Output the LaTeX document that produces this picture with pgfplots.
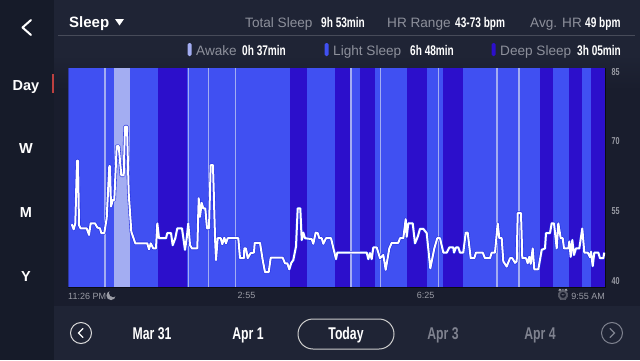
\documentclass[border=0pt]{standalone}
\usepackage{pgfplots}
\pgfplotsset{compat=1.18}
\usepackage{fontspec}
\setmainfont{Liberation Sans}
\newfontfamily\cond[FakeStretch=0.72]{Liberation Sans}
\newfontfamily\emo{Noto Emoji}
\definecolor{bgmain}{HTML}{1F2435}
\definecolor{bgside}{HTML}{161B29}
\definecolor{bgstrip}{HTML}{191D2D}
\definecolor{light}{HTML}{4050F2}
\definecolor{deep}{HTML}{2C0FCB}
\definecolor{awake}{HTML}{A3ADF2}
\definecolor{graytxt}{HTML}{8D909B}
\definecolor{tickgray}{HTML}{9A9CA5}
\definecolor{dimtxt}{HTML}{7F828F}
\definecolor{halo}{HTML}{1F2CE0}
\newcommand{\hd}[1]{{\cond\bfseries\fontsize{14}{14}\selectfont #1}}
\tikzset{lab/.style={anchor=base west,inner sep=0pt,text=graytxt,font=\fontsize{13.6}{14}\selectfont},
val/.style={anchor=base west,inner sep=0pt,text=white},
nav/.style={anchor=base,inner sep=0pt,font=\cond\bfseries\fontsize{17}{17}\selectfont}}
\newcommand{\band}[3]{\addplot[fill=#1,draw=none,forget plot] coordinates {(#2,38.64)(#2,85.73)(#3,85.73)(#3,38.64)} --cycle;}
\begin{document}
\begin{tikzpicture}[x=1pt,y=1pt]
\fill[bgmain] (0,0) rectangle (640,360);
\fill[bgside] (0,0) rectangle (54,360);
\fill[bgstrip] (54,54) rectangle (640,270);
\shade[top color=bgmain,bottom color=bgstrip] (54,270) rectangle (640,305);
% header
\draw[line width=0.6pt,color=white!18!bgmain] (58,324.5) -- (635,324.5);
\node[anchor=base west,inner sep=0pt,text=white,font=\bfseries\fontsize{15}{15}\selectfont] at (69,333) {Sleep};
\fill[white] (115,341) -- (124,341) -- (119.5,334.5) -- cycle;
\node[lab] at (245,333) {Total Sleep};
\node[val] at (321,333) {\hd{9h 53min}};
\node[lab] at (387,333) {HR Range};
\node[val] at (455,333) {\hd{43-73 bpm}};
\node[lab] at (530,333) {Avg. HR};
\node[val] at (585,333) {\hd{49 bpm}};
% legend
\fill[awake,rounded corners=1.5pt] (187.5,304) rectangle (191.5,317);
\node[lab] at (196,305) {Awake};
\node[val] at (242,305) {\hd{0h 37min}};
\fill[light,rounded corners=1.5pt] (324.5,304) rectangle (328.5,317);
\node[lab] at (333,305) {Light Sleep};
\node[val] at (410,305) {\hd{6h 48min}};
\fill[deep,rounded corners=1.5pt] (491.5,304) rectangle (495.5,317);
\node[lab] at (500,305) {Deep Sleep};
\node[val] at (577,305) {\hd{3h 05min}};
% sidebar
\draw[white,line width=2pt,line cap=round,line join=round] (31,340) -- (22.5,332.5) -- (31,325);
\node[anchor=base,inner sep=0pt,text=white,font=\bfseries\fontsize{14.5}{14.5}\selectfont] at (26,270) {Day};
\fill[red!65!black!75!white] (52,267) rectangle (54,286);
\foreach \t/\y in {W/207,M/143,Y/79}
  \node[anchor=base,inner sep=0pt,text=white,font=\bfseries\fontsize{14.5}{14.5}\selectfont] at (26,\y) {\t};
% bottom
\draw[white!85!black,line width=1pt] (81,27) circle (10.5);
\draw[white,line width=1.3pt,line cap=round] (83,31.5) -- (78.5,27) -- (83,22.5);
\node[nav,text=white] at (152,21) {Mar 31};
\node[nav,text=white] at (248,21) {Apr 1};
\draw[white!80!black,line width=1pt,rounded corners=15pt] (298,11) rectangle (394,41);
\node[nav,text=white] at (346,21) {Today};
\node[nav,text=dimtxt] at (443,21) {Apr 3};
\node[nav,text=dimtxt] at (540,21) {Apr 4};
\draw[dimtxt,line width=1pt] (612,27) circle (10.5);
\draw[dimtxt,line width=1.3pt,line cap=round] (610,31.5) -- (614.5,27) -- (610,22.5);
% time labels
\node[anchor=base west,inner sep=0pt,text=tickgray,font=\fontsize{9}{9}\selectfont] at (68,61) {11:26 PM};
\fill[tickgray] (111,64.5) circle (4.6);
\fill[bgstrip] (113.2,67) circle (4.2);
\node[anchor=base east,inner sep=0pt,text=tickgray,font=\fontsize{9}{9}\selectfont] at (605,61) {9:55 AM};
\node[inner sep=0pt,text=tickgray,font=\emo\fontsize{11}{11}\selectfont] at (563,65) {⏰};
\begin{axis}[
  at={(68.3pt,72.7pt)},anchor=south west,
  scale only axis,width=536.7pt,height=219pt,
  xmin=68.3,xmax=605,ymin=38.64,ymax=85.73,
  axis line style={draw=black!60!bgstrip,line width=0.5pt},
  xtick={246.5,425.7},xticklabels={2:55,6:25},
  ytick={40,55,70,85},yticklabel pos=right,
  tick style={draw=none},
  x tick label style={text=tickgray,font=\fontsize{9}{9}\selectfont,yshift=-1pt},
  y tick label style={text=tickgray,font=\cond\bfseries\fontsize{10}{10}\selectfont,xshift=3pt},
  /pgf/number format/assume math mode=true,
]
\band{light}{68.3}{605}
\band{deep}{158}{187}
\band{deep}{290}{306.7}
\band{deep}{335.3}{350}
\band{deep}{360}{375}
\band{deep}{407}{426.7}
\band{deep}{443.3}{463.3}
\band{deep}{540}{553}
\band{deep}{569}{582.3}
\band{deep}{591}{605}
\band{awake}{114}{129.7}
\band{awake}{104.3}{105.7}
\band{awake}{187.6}{189}
\band{awake}{208}{209.4}
\band{awake}{235}{236.4}
\band{awake}{350.3}{351.7}
\band{awake}{380}{381.4}
\band{awake}{438}{439.4}
\band{awake}{496.3}{497.7}
\band{awake}{518.3}{519.7}
\addplot[color=halo,line width=3.2pt,line join=round,forget plot] coordinates {
(71.7,52.2)(73.7,51.1)(75.3,52.4)(77,65.9)(78,65.9)(79,52.0)(80.7,51.3)(86.7,51.3)(89,49.9)(90.7,52.4)(95,52.4)(97.3,51.5)(100,51.3)(101.3,50.3)(104.3,50.3)(106.7,53.5)(109.3,64.7)(110,64.7)(111,56)(112.7,57.4)(114.3,57.4)(116.7,69)(118.7,69)(121.3,62.7)(123.7,62.7)(125,73.2)(127,73.2)(128.7,58.9)(131.3,50.6)(135.3,48.1)(147.3,48.1)(149,46.8)(150.7,48.1)(153.3,47)(156,47)(157.3,52.4)(159,49.2)(166,49.2)(167.3,50.3)(171,50.3)(172.7,47.7)(175.3,49.2)(177.3,51.3)(182,51.3)(185,46.7)(186.7,49.2)(188.3,52.4)(190,47.7)(192,47)(197.3,47)(198.7,57.8)(200,53.8)(201.7,56.8)(203.3,55.6)(205.3,55.6)(207,51.3)(209,51.3)(210.7,64.9)(213,64.9)(215,49.5)(216,44.5)(217.7,49.2)(220.7,49.2)(222.3,47.9)(224.3,49.3)(226,48.1)(227.7,49.2)(238.3,49.2)(240,44.9)(244,44.9)(244.3,47)(246,47)(247.7,44.9)(250.7,46)(254,46.1)
(254.7,48.2)(260,48.2)(262.7,44.5)(265,41.9)(268.7,41.9)(270.7,45)(282.7,45)(285,43.8)(287.3,43.8)(289.3,42.5)(291.3,43.9)(293.3,44.5)(296,47.4)(297.7,55.6)(300.3,55.6)(301.7,48.8)(303.3,50.4)(305,49.2)(311.7,49)(313.3,48)(315.7,50.4)(317.7,50.3)(319.3,49.2)(321.7,49.2)(323.3,48)(326,49.2)(331,49.2)(336,44.7)(337.3,46.1)(366.7,46.1)(368.3,44.7)(370,46)(371.7,44.7)(373.3,47.2)(376.7,47.2)(380,44.9)(383.3,45.6)(385.7,42.4)(389.3,47)(391.7,48.2)(398.3,48.2)(400,49.2)(403.3,49.2)(405.7,53.3)(406.7,49.5)(408.3,52.4)(412.7,52.4)(415,48.1)(417.7,49.5)(420,51.2)(423.3,51.2)(426.7,50.3)(430.3,42.7)(434.3,47)(437.3,49.2)(440,49.2)(443.3,46.1)(446.7,46.1)(449.3,47.2)
(453.3,47.2)(454,46.1)(456,47.2)(458.3,47.2)(460,46.1)(463.3,46.1)(465.7,50.4)(467.7,50.4)(470.7,44.9)(474.3,44.9)(476,46.1)(482.7,46.1)(485,44.9)(490,44.9)(491.7,46.1)(495,46.1)(497.7,52.4)(499.3,49.2)(501.7,49.2)(503.3,44.2)(506.7,43.1)(510,44.9)(512.3,44.9)(515,43.9)(516.7,44.2)(517.7,54.6)(521,54.6)(522.3,44.9)(526,44.9)(527.7,43.8)(529.3,45.2)(530.7,43.7)(532.7,47)(534.3,42.5)(538.3,42.5)(541.7,46.7)(545,47)(546,50.3)(550,50.3)(551.7,52.4)(554,52.4)(556.7,47)(558.3,52.4)(560.7,49.2)(562.7,49.2)(564,47)(568.3,47)(569.3,48.5)(570.7,45.2)(572.3,48.8)(574,45.6)(576,47)(579.3,47)(582.3,51.3)(584.3,46.1)(587.7,46.1)(590,45.1)(591,46.3)(592.7,43.2)(594.3,46.1)(598.3,46.1)(600,44.9)(603.3,44.9)(604.3,46.1)
};
\addplot[color=white,line width=2pt,line join=round] coordinates {
(71.7,52.2)(73.7,51.1)(75.3,52.4)(77,65.9)(78,65.9)(79,52.0)(80.7,51.3)(86.7,51.3)(89,49.9)(90.7,52.4)(95,52.4)(97.3,51.5)(100,51.3)(101.3,50.3)(104.3,50.3)(106.7,53.5)(109.3,64.7)(110,64.7)(111,56)(112.7,57.4)(114.3,57.4)(116.7,69)(118.7,69)(121.3,62.7)(123.7,62.7)(125,73.2)(127,73.2)(128.7,58.9)(131.3,50.6)(135.3,48.1)(147.3,48.1)(149,46.8)(150.7,48.1)(153.3,47)(156,47)(157.3,52.4)(159,49.2)(166,49.2)(167.3,50.3)(171,50.3)(172.7,47.7)(175.3,49.2)(177.3,51.3)(182,51.3)(185,46.7)(186.7,49.2)(188.3,52.4)(190,47.7)(192,47)(197.3,47)(198.7,57.8)(200,53.8)(201.7,56.8)(203.3,55.6)(205.3,55.6)(207,51.3)(209,51.3)(210.7,64.9)(213,64.9)(215,49.5)(216,44.5)(217.7,49.2)(220.7,49.2)(222.3,47.9)(224.3,49.3)(226,48.1)(227.7,49.2)(238.3,49.2)(240,44.9)(244,44.9)(244.3,47)(246,47)(247.7,44.9)(250.7,46)(254,46.1)
(254.7,48.2)(260,48.2)(262.7,44.5)(265,41.9)(268.7,41.9)(270.7,45)(282.7,45)(285,43.8)(287.3,43.8)(289.3,42.5)(291.3,43.9)(293.3,44.5)(296,47.4)(297.7,55.6)(300.3,55.6)(301.7,48.8)(303.3,50.4)(305,49.2)(311.7,49)(313.3,48)(315.7,50.4)(317.7,50.3)(319.3,49.2)(321.7,49.2)(323.3,48)(326,49.2)(331,49.2)(336,44.7)(337.3,46.1)(366.7,46.1)(368.3,44.7)(370,46)(371.7,44.7)(373.3,47.2)(376.7,47.2)(380,44.9)(383.3,45.6)(385.7,42.4)(389.3,47)(391.7,48.2)(398.3,48.2)(400,49.2)(403.3,49.2)(405.7,53.3)(406.7,49.5)(408.3,52.4)(412.7,52.4)(415,48.1)(417.7,49.5)(420,51.2)(423.3,51.2)(426.7,50.3)(430.3,42.7)(434.3,47)(437.3,49.2)(440,49.2)(443.3,46.1)(446.7,46.1)(449.3,47.2)
(453.3,47.2)(454,46.1)(456,47.2)(458.3,47.2)(460,46.1)(463.3,46.1)(465.7,50.4)(467.7,50.4)(470.7,44.9)(474.3,44.9)(476,46.1)(482.7,46.1)(485,44.9)(490,44.9)(491.7,46.1)(495,46.1)(497.7,52.4)(499.3,49.2)(501.7,49.2)(503.3,44.2)(506.7,43.1)(510,44.9)(512.3,44.9)(515,43.9)(516.7,44.2)(517.7,54.6)(521,54.6)(522.3,44.9)(526,44.9)(527.7,43.8)(529.3,45.2)(530.7,43.7)(532.7,47)(534.3,42.5)(538.3,42.5)(541.7,46.7)(545,47)(546,50.3)(550,50.3)(551.7,52.4)(554,52.4)(556.7,47)(558.3,52.4)(560.7,49.2)(562.7,49.2)(564,47)(568.3,47)(569.3,48.5)(570.7,45.2)(572.3,48.8)(574,45.6)(576,47)(579.3,47)(582.3,51.3)(584.3,46.1)(587.7,46.1)(590,45.1)(591,46.3)(592.7,43.2)(594.3,46.1)(598.3,46.1)(600,44.9)(603.3,44.9)(604.3,46.1)
};
\end{axis}
\end{tikzpicture}
\end{document}
